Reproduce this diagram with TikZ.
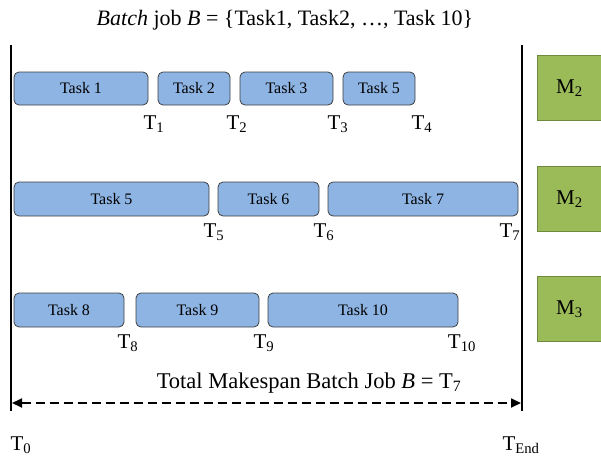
\documentclass[tikz,border=0pt]{standalone}
\usepackage{fontspec}
\setmainfont{Liberation Serif}
\usetikzlibrary{arrows.meta}
\definecolor{taskfill}{HTML}{8EB4E3}
\definecolor{taskdraw}{HTML}{3F3F3F}
\definecolor{mfill}{HTML}{9BBB59}
\definecolor{mdraw}{HTML}{71893F}
\tikzset{
  taskbox/.style={draw=taskdraw, fill=taskfill, rounded corners=5pt, line width=0.8pt, font=\fontsize{16}{18}\selectfont},
  mbox/.style={draw=mdraw, fill=mfill, line width=0.8pt, font=\fontsize{21}{24}\selectfont},
  tlabel/.style={font=\fontsize{21}{24}\selectfont, inner sep=0pt},
  vline/.style={line width=1.6pt, black},
}
\newcommand{\taskat}[6]{\node[taskbox, minimum width={(#3-#2)*1pt}, minimum height={(#5-#4)*1pt}, inner sep=0pt] (#1) at ({(#2+#3)/2},{(#4+#5)/2}) {#6};}
\begin{document}
\begin{tikzpicture}[x=1pt,y=-1pt]
\useasboundingbox (0,0) rectangle (601,460);
\node[font=\fontsize{22}{25}\selectfont] (title) at (285,20) {\textit{Batch} job \textit{B} = \{Task1, Task2, \ldots, Task 10\}};
\coordinate (l1) at (11,45); \coordinate (l2) at (11,411);
\coordinate (r1) at (522,45); \coordinate (r2) at (522,411);
\draw[vline] (l1) -- (l2);
\draw[vline] (r1) -- (r2);
% row 1
\taskat{t1}{14}{148}{72}{105}{Task 1}
\taskat{t2}{158}{230}{72}{105}{Task 2}
\taskat{t3}{240}{333}{72}{105}{Task 3}
\taskat{t4}{343}{415}{72}{105}{Task 5}
\node[tlabel] (T1) at (154,124) {T\textsubscript{1}};
\node[tlabel] (T2) at (237,124) {T\textsubscript{2}};
\node[tlabel] (T3) at (338,124) {T\textsubscript{3}};
\node[tlabel] (T4) at (422,124) {T\textsubscript{4}};
% row 2
\taskat{t5}{14}{209}{182}{216}{Task 5}
\taskat{t6}{218}{319}{182}{216}{Task 6}
\taskat{t7}{328}{518}{182}{216}{Task 7}
\node[tlabel] (T5) at (214,232) {T\textsubscript{5}};
\node[tlabel] (T6) at (324,232) {T\textsubscript{6}};
\node[tlabel] (T7) at (510,232) {T\textsubscript{7}};
% row 3
\taskat{t8}{14}{124}{293}{327}{Task 8}
\taskat{t9}{136}{259}{293}{327}{Task 9}
\taskat{t10}{268}{458}{293}{327}{Task 10}
\node[tlabel] (T8) at (128,343) {T\textsubscript{8}};
\node[tlabel] (T9) at (264,343) {T\textsubscript{9}};
\node[tlabel] (T10) at (462,343) {T\textsubscript{10}};
% machines
\node[mbox, minimum width=70pt, minimum height=65pt, inner sep=0pt, anchor=north west] (m1) at (537,55) {\hspace*{-6pt}M\textsubscript{2}};
\node[mbox, minimum width=70pt, minimum height=65pt, inner sep=0pt, anchor=north west] (m2) at (537,166) {\hspace*{-6pt}M\textsubscript{2}};
\node[mbox, minimum width=70pt, minimum height=65pt, inner sep=0pt, anchor=north west] (m3) at (537,276) {\hspace*{-6pt}M\textsubscript{3}};
% makespan
\coordinate (a1) at (12,403); \coordinate (a2) at (521,403);
\draw[line width=1.8pt, dash pattern=on 9pt off 5pt, {Triangle[length=10pt,width=9pt]}-{Triangle[length=10pt,width=9pt]}] (a1) -- (a2);
\node[font=\fontsize{22.5}{26}\selectfont] (mk) at (309,383) {Total Makespan Batch Job \textit{B} = T\textsubscript{7}};
\node[tlabel] (T0) at (21,445) {T\textsubscript{0}};
\node[tlabel] (TE) at (521,445) {T\textsubscript{End}};
\end{tikzpicture}
\end{document}
